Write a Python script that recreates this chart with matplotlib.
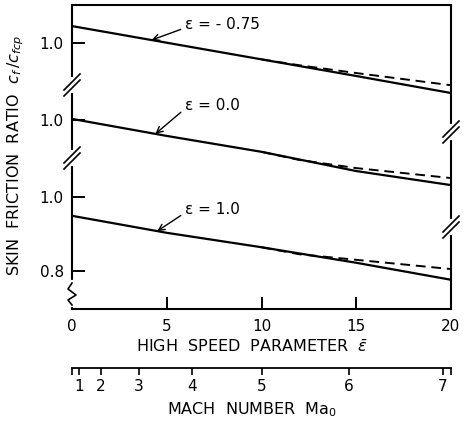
import matplotlib
matplotlib.use('Agg')
import matplotlib.pyplot as plt

# high speed parameter (x) and skin friction ratio for the three wall cases
eps_bar = [0, 5, 10, 15, 20]
cf_m075 = [1.046, 1.001, 0.956, 0.911, 0.865]
cf_00 = [1.003, 0.957, 0.914, 0.862, 0.824]
cf_10 = [0.949, 0.903, 0.864, 0.822, 0.776]

# dashed curves split off from the solid ones at higher eps_bar
eps_dash = [10, 12, 15, 20]
cfd_m075 = [0.956, 0.940, 0.919, 0.886]
cfd_00 = [0.914, 0.892, 0.870, 0.843]
cfd_10 = [0.864, 0.845, 0.830, 0.805]

eps_labels = ['ε = - 0.75', 'ε = 0.0', 'ε = 1.0']
shifts = [0.416, 0.208, 0.0]   # vertical stacking of the three bands

mach = [1, 2, 3, 4, 5, 6, 7]
mach_pos = [0.37, 1.53, 3.54, 6.33, 10.03, 14.6, 19.58]

plt.rcParams['font.family'] = 'DejaVu Sans'
fs = 11
fs_lab = 11.5

fig = plt.figure(figsize=(4.67, 4.25), dpi=100)
W, H = 467, 425
x0, x1, y0, y1 = 72, 451, 5, 309
ax = fig.add_axes([x0 / W, 1 - y1 / H, (x1 - x0) / W, (y1 - y0) / H])

solid = [cf_m075, cf_00, cf_10]
dashed = [cfd_m075, cfd_00, cfd_10]
for s, d, off in zip(solid, dashed, shifts):
    ax.plot(eps_bar, [v + off for v in s], color='black', lw=1.6)
    ax.plot(eps_dash, [v + off for v in d], color='black', lw=1.4, ls=(0, (5, 3)))

ax.set_xlim(0, 20)
ax.set_ylim(0.697, 1.519)
ax.set_xticks([0, 5, 10, 15, 20])
ax.set_yticks([1.0 + shifts[0], 1.0 + shifts[1], 1.0, 0.8])
ax.set_yticklabels(['1.0', '1.0', '1.0', '0.8'])
ax.tick_params(direction='in', length=9, width=1.4, labelsize=fs)
ax.tick_params(axis='x', pad=7)
ax.tick_params(axis='y', pad=6)
for sp in ax.spines.values():
    sp.set_linewidth(1.5)

# labels with leader arrows
hits = [4.2, 4.4, 4.5]
text_y = [1.465, 1.246, 0.965]
for lab, s, off, hx, ty in zip(eps_labels, solid, shifts, hits, text_y):
    hy = s[0] + (s[1] - s[0]) * hx / 5 + off
    ax.annotate(lab, xy=(hx, hy), xytext=(5.95, ty), fontsize=fs,
                ha='left', va='center',
                arrowprops=dict(arrowstyle='->', color='black', lw=1.0,
                                relpos=(0, 0.3), shrinkA=1, shrinkB=0))

# axis break marks
aw, ah = x1 - x0, y1 - y0
def brk(xf, yf):
    ax.plot([xf, xf], [yf - 6 / ah, yf + 6 / ah], color='white', lw=3,
            transform=ax.transAxes, clip_on=False, zorder=5)
    for d in (-3, 3):
        ax.plot([xf - 8 / aw, xf + 8 / aw],
                [yf + (d - 8) / ah, yf + (d + 8) / ah],
                color='black', lw=1.2, transform=ax.transAxes,
                clip_on=False, zorder=6)

for yf in [(y1 - 85) / ah, (y1 - 158) / ah]:
    brk(0, yf)
for yf in [(y1 - 132) / ah, (y1 - 227) / ah]:
    brk(1, yf)

# bottom left squiggle
ax.plot([0, 0], [4 / ah, 27 / ah], color='white', lw=3,
        transform=ax.transAxes, clip_on=False, zorder=5)
zx = [0, -4 / aw, 4 / aw, -4 / aw, 0]
zy = [26 / ah, 20 / ah, 14 / ah, 9 / ah, 4 / ah]
ax.plot(zx, zy, color='black', lw=1.2, transform=ax.transAxes,
        clip_on=False, zorder=6)

fig.text(252 / W, 1 - 347 / H, r'HIGH  SPEED  PARAMETER  $\bar{\varepsilon}$',
         ha='center', va='center', fontsize=fs_lab)
fig.text(16 / W, 1 - 156 / H, r'SKIN  FRICTION  RATIO  $c_f\,/c_{fcp}$',
         rotation=90, ha='center', va='center', fontsize=fs_lab)

# Mach number scale
mx = fig.add_axes([x0 / W, 1 - 368 / H, (x1 - x0) / W, 0.001])
for k in ['top', 'left', 'right']:
    mx.spines[k].set_visible(False)
mx.spines['bottom'].set_linewidth(1.3)
mx.set_xlim(0, 20)
mx.set_yticks([])
mx.set_xticks(mach_pos)
mx.set_xticklabels([str(m) for m in mach])
mx.set_xticks([0, 20], minor=True)
mx.tick_params(axis='x', direction='out', length=5, width=1.2, labelsize=fs, pad=3)
mx.tick_params(axis='x', which='minor', direction='out', length=5, width=1.2)
mx.patch.set_visible(False)
fig.text(252 / W, 1 - 410 / H, r'MACH  NUMBER  Ma$_0$',
         ha='center', va='center', fontsize=fs_lab)

fig.savefig('out.png', dpi=100)
